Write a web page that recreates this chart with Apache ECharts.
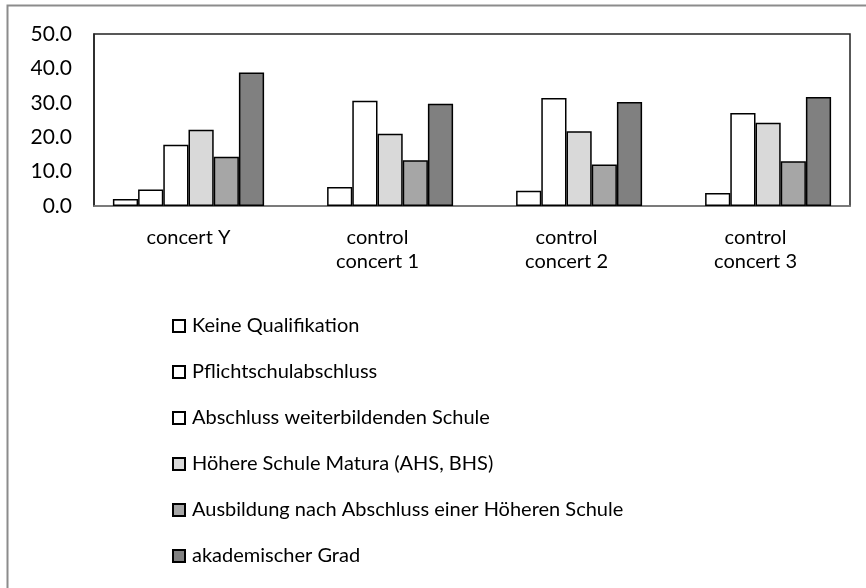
<!DOCTYPE html>
<html>
<head>
<meta charset="utf-8">
<script src="https://cdn.jsdelivr.net/npm/echarts@6/dist/echarts.min.js"></script>
<style>
  html, body { margin: 0; padding: 0; background: #fff; }
  #chart { width: 866px; height: 588px; }
</style>
</head>
<body>
<div id="chart"></div>
<script>
const categories = ['concert Y', 'control\nconcert 1', 'control\nconcert 2', 'control\nconcert 3']
const yTicks = [0, 10, 20, 30, 40, 50]

// no bar drawn for the control concerts
const keineQualifikation = [2.0, null, null, null]
const pflichtschule = [4.8, 5.5, 4.4, 3.8]
const weiterbildend = [17.8, 30.6, 31.4, 27.0]
const hoehereSchule = [22.2, 21.0, 21.7, 24.2]
const ausbildung = [14.3, 13.3, 12.1, 13.0]
const akademisch = [38.8, 29.7, 30.2, 31.7]

const seriesNames = [
  'Keine Qualifikation',
  'Pflichtschulabschluss',
  'Abschluss weiterbildenden Schule',
  'Höhere Schule Matura (AHS, BHS)',
  'Ausbildung nach Abschluss einer Höheren Schule',
  'akademischer Grad',
]
const seriesData = [keineQualifikation, pflichtschule, weiterbildend, hoehereSchule, ausbildung, akademisch]
const fills = ['#ffffff', '#ffffff', '#ffffff', '#d9d9d9', '#a6a6a6', '#808080']

const font = 'Lato, "Open Sans", sans-serif'
const chart = echarts.init(document.getElementById('chart'))

chart.setOption({
  animation: false,
  textStyle: { fontFamily: font, color: '#000' },
  // outer frame, only top and left edges are in view
  graphic: [
    {
      type: 'polyline',
      shape: { points: [[7.5, 600], [7.5, 5.5], [880, 5.5]] },
      style: { fill: 'none', stroke: '#8c8c8c', lineWidth: 2 },
      silent: true,
    },
  ],
  grid: {
    left: 94,
    right: 16,
    top: 34,
    bottom: 382,
    show: true,
    borderColor: '#222',
    borderWidth: 1.5,
  },
  legend: {
    orient: 'vertical',
    left: 167,
    top: 310,
    itemWidth: 12,
    itemHeight: 12,
    itemGap: 24,
    icon: 'rect',
    textStyle: { fontFamily: font, fontSize: 20, color: '#000', lineHeight: 22, padding: [0, 0, 0, 2] },
    data: seriesNames,
  },
  xAxis: {
    type: 'category',
    data: categories,
    axisTick: { show: false },
    axisLine: { lineStyle: { color: '#888', width: 1.5 } },
    axisLabel: {
      fontFamily: font,
      fontSize: 20,
      color: '#000',
      lineHeight: 24,
      margin: 20,
    },
  },
  yAxis: {
    type: 'value',
    min: yTicks[0],
    max: yTicks[yTicks.length - 1],
    interval: 10,
    splitLine: { show: false },
    axisLine: { show: true, lineStyle: { color: '#222', width: 1.5 } },
    axisTick: { show: false },
    axisLabel: {
      fontFamily: font,
      fontSize: 21,
      color: '#000',
      margin: 22,
      formatter: (v) => v.toFixed(1),
    },
  },
  series: seriesNames.map((name, i) => ({
    name: name,
    type: 'bar',
    data: seriesData[i],
    barGap: '0%',
    barCategoryGap: '20%',
    itemStyle: {
      color: fills[i],
      borderColor: '#000',
      borderWidth: 1.5,
    },
  })),
})
</script>
</body>
</html>
